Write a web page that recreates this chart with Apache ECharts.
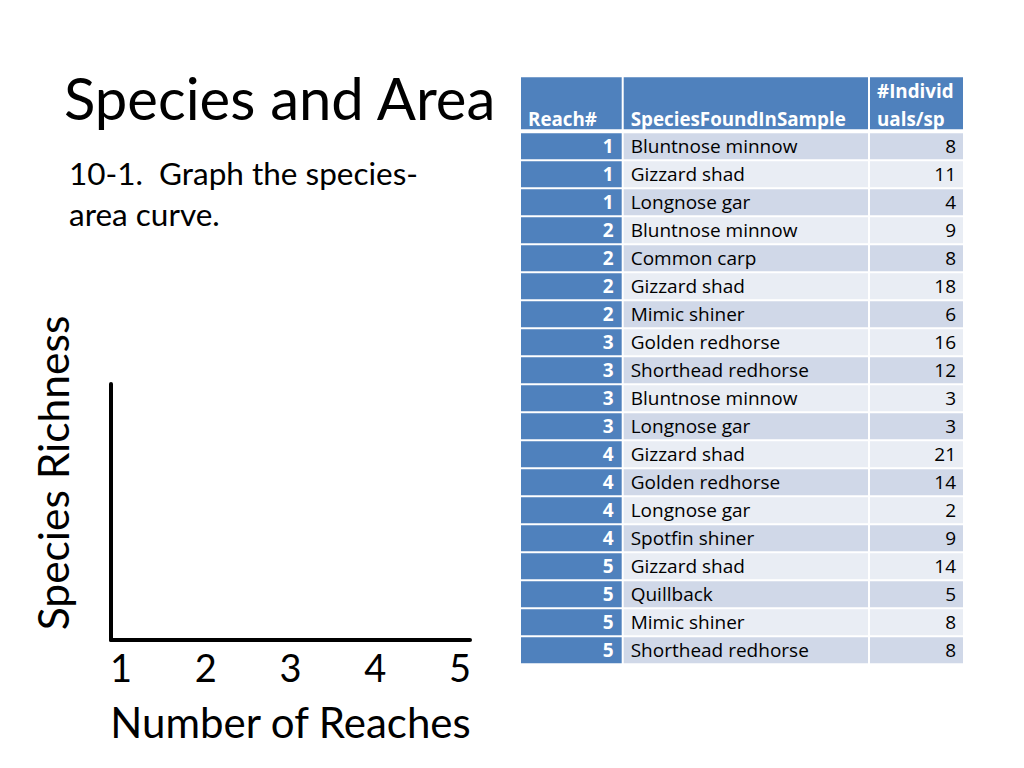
<!DOCTYPE html>
<html><head><meta charset="utf-8">
<script src="https://cdn.jsdelivr.net/npm/echarts@6/dist/echarts.min.js"></script>
<style>html,body{margin:0;padding:0;background:#fff}#c{width:1024px;height:768px}</style>
</head><body><div id="c"></div>
<script>
// ---- data ----
const reaches = [1,1,1,2,2,2,2,3,3,3,3,4,4,4,4,5,5,5,5];
const species = ['Bluntnose minnow','Gizzard shad','Longnose gar','Bluntnose minnow','Common carp','Gizzard shad','Mimic shiner','Golden redhorse','Shorthead redhorse','Bluntnose minnow','Longnose gar','Gizzard shad','Golden redhorse','Longnose gar','Spotfin shiner','Gizzard shad','Quillback','Mimic shiner','Shorthead redhorse'];
const individuals = [8,11,4,9,8,18,6,16,12,3,3,21,14,2,9,14,5,8,8];
const headers = ['Reach#','SpeciesFoundInSample','#Individ\nuals/sp'];
const reachTicks = [1,2,3,4,5];

// ---- layout / style ----
const FONT = 'Lato';
const TFONT = '"Open Sans"';
const BLUE = '#4F81BD', BAND1 = '#D0D8E8', BAND2 = '#E9EDF4';
const colEdges = [0, 101.7, 348, 442];
const columns = [reaches, species, individuals];

const cells = [];
for (let c = 0; c < 3; c++) {
  cells.push([c, -1]);
  for (let r = 0; r < reaches.length; r++) cells.push([c, r]);
}

function renderItem(params, api) {
  const c = api.value(0), r = api.value(1);
  const isHeader = r < 0;
  const y0 = isHeader ? 0 : r + 2, y1 = isHeader ? 2 : r + 3;
  const p0 = api.coord([colEdges[c], y0]);
  const p1 = api.coord([colEdges[c + 1], y1]);
  const gl = c > 0 ? 1 : 0, gr = c < 2 ? 1 : 0;
  const x = p0[0] + gl, w = p1[0] - p0[0] - gl - gr;
  const y = p0[1] + 1, h = p1[1] - p0[1] - (isHeader ? 4 : 2);
  let fill, text, tx, ty, align, va, font, color;
  if (isHeader) {
    fill = BLUE; text = headers[c]; color = '#fff';
    font = 'bold 18.8px ' + TFONT; align = 'left'; tx = x + 7; ty = y + h + 4; va = 'bottom';
  } else {
    fill = c === 0 ? BLUE : (r % 2 === 0 ? BAND1 : BAND2);
    text = String(columns[c][r]);
    color = c === 0 ? '#fff' : '#000';
    font = (c === 0 ? 'bold ' : '') + '19px ' + TFONT;
    va = 'middle'; ty = y + h / 2;
    if (c === 1) { align = 'left'; tx = x + 7; }
    else { align = 'right'; tx = x + w - (c === 0 ? 8 : 7); }
  }
  return {
    type: 'group',
    children: [
      { type: 'rect', shape: { x, y, width: w, height: h }, style: { fill } },
      { type: 'text', style: { text, x: tx, y: ty, fill: color, font, align, verticalAlign: va, lineHeight: 28 } }
    ]
  };
}

const chart = echarts.init(document.getElementById('c'), null, { renderer: 'svg' });
chart.setOption({
  backgroundColor: '#fff',
  animation: false,
  title: [
    { text: 'Species and Area', left: 59, top: 63, textStyle: { fontFamily: FONT, fontWeight: 'normal', fontSize: 58, color: '#000' } },
    { text: '10-1.  Graph the species-\narea curve.', left: 64, top: 147, textStyle: { fontFamily: FONT, fontWeight: 'normal', fontSize: 31.5, lineHeight: 41, color: '#000' } }
  ],
  graphic: [
    { type: 'text', x: 52, y: 473, rotation: Math.PI / 2,
      style: { text: 'Species Richness', font: '42.5px ' + FONT, fill: '#000', align: 'center', verticalAlign: 'middle' } }
  ],
  grid: [
    { left: 111, top: 384, width: 359, height: 256 },
    { left: 521, top: 76.3, width: 442, height: 588 }
  ],
  xAxis: [
    { gridIndex: 0, type: 'value', min: 0.882, max: 5.118,
      axisLine: { show: true, lineStyle: { color: '#000', width: 4 } },
      axisTick: { show: false }, splitLine: { show: false },
      axisLabel: { customValues: reachTicks, color: '#000', fontFamily: FONT, fontSize: 38, margin: 8 },
      name: 'Number of Reaches', nameLocation: 'middle', nameGap: 61,
      nameTextStyle: { color: '#000', fontFamily: FONT, fontSize: 42 } },
    { gridIndex: 1, type: 'value', min: 0, max: 442, show: false }
  ],
  yAxis: [
    { gridIndex: 0, type: 'value', min: 0, max: 1,
      axisLine: { show: true, lineStyle: { color: '#000', width: 4 } },
      axisTick: { show: false }, splitLine: { show: false }, axisLabel: { show: false } },
    { gridIndex: 1, type: 'value', min: 0, max: 21, inverse: true, show: false }
  ],
  series: [
    { type: 'custom', xAxisIndex: 1, yAxisIndex: 1, renderItem, data: cells, silent: true, clip: false }
  ]
});
</script></body></html>
